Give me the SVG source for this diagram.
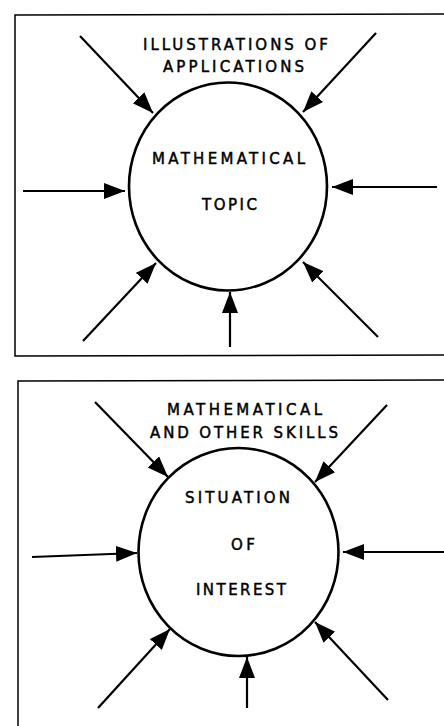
<svg xmlns="http://www.w3.org/2000/svg" width="444" height="726" viewBox="0 0 444 726">
<style>
.frame{fill:none;stroke:#000;stroke-width:1.5}
.node{fill:#fff;stroke:#000;stroke-width:2.6}
.arr{stroke:#000;stroke-width:2.2;fill:none;marker-end:url(#ah)}
.t{font-family:"DejaVu Sans","Liberation Sans",sans-serif;font-size:15px;fill:#000;stroke:#000;stroke-width:0.45;text-anchor:middle}
</style>
<defs>
<marker id="ah" markerUnits="userSpaceOnUse" markerWidth="24" markerHeight="18" refX="21" refY="8" orient="auto">
<path d="M0,0 L21,8 L0,16 z" fill="#000"/>
</marker>
</defs>
<g id="panel1">
<path class="frame" d="M444,14 L15,15 L15,356 L444,355"/>
</g>
<g id="panel2">
<path class="frame" d="M444,380 L18,381 L18,726"/>
</g>
<g id="connectors">
<line class="arr" x1="80" y1="36" x2="153" y2="113"/>
<line class="arr" x1="376" y1="33" x2="303" y2="112"/>
<line class="arr" x1="23" y1="191" x2="125" y2="191"/>
<line class="arr" x1="437" y1="187" x2="332" y2="187"/>
<line class="arr" x1="83" y1="341" x2="156" y2="263"/>
<line class="arr" x1="230" y1="347" x2="230" y2="292"/>
<line class="arr" x1="378" y1="337" x2="303" y2="262"/>
<line class="arr" x1="95" y1="402" x2="168" y2="477"/>
<line class="arr" x1="387" y1="405" x2="315" y2="482"/>
<line class="arr" x1="32" y1="557" x2="137" y2="553"/>
<line class="arr" x1="444" y1="552" x2="343" y2="552"/>
<line class="arr" x1="98" y1="708" x2="170" y2="629"/>
<line class="arr" x1="247" y1="708" x2="247" y2="657"/>
<line class="arr" x1="388" y1="700" x2="315" y2="622"/>
</g>
<g id="label1">
<text class="t" x="235.5" y="50" textLength="185" lengthAdjust="spacing">ILLUSTRATIONS OF</text>
<text class="t" x="233.5" y="72" textLength="141" lengthAdjust="spacing">APPLICATIONS</text>
</g>
<g id="node1">
<ellipse class="node" cx="228" cy="186.5" rx="99" ry="104"/>
<text class="t" x="228.5" y="164" textLength="153" lengthAdjust="spacing">MATHEMATICAL</text>
<text class="t" x="229.5" y="210" textLength="55" lengthAdjust="spacing">TOPIC</text>
</g>
<g id="label2">
<text class="t" x="244.5" y="415" textLength="155" lengthAdjust="spacing">MATHEMATICAL</text>
<text class="t" x="244" y="438" textLength="188" lengthAdjust="spacing">AND OTHER SKILLS</text>
</g>
<g id="node2">
<ellipse class="node" cx="238.5" cy="552" rx="100" ry="104"/>
<text class="t" x="237.5" y="503" textLength="105" lengthAdjust="spacing">SITUATION</text>
<text class="t" x="243" y="550" textLength="24" lengthAdjust="spacing">OF</text>
<text class="t" x="241" y="595" textLength="90" lengthAdjust="spacing">INTEREST</text>
</g>
</svg>
